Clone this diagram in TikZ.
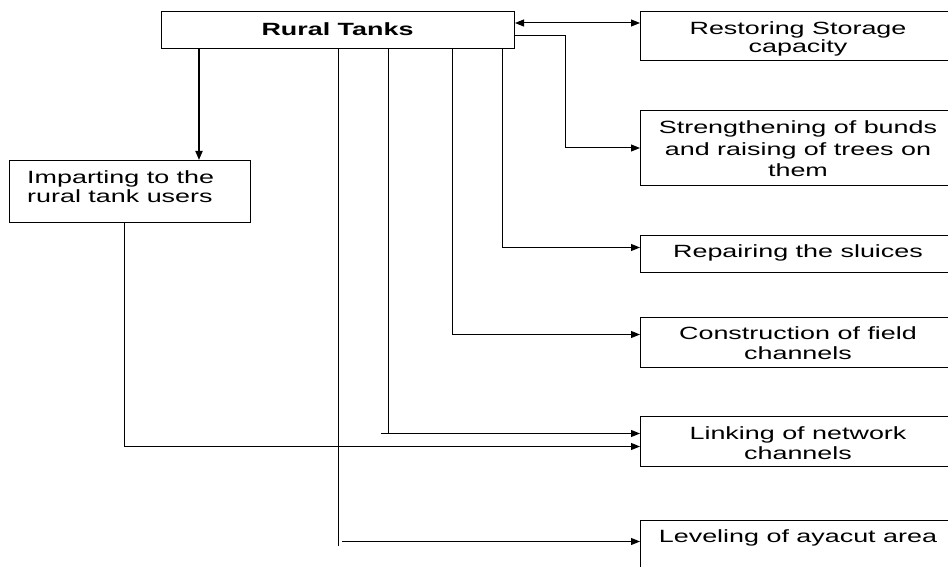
\documentclass[tikz,border=0pt]{standalone}
\usepackage{fontspec}
\setmainfont{Liberation Sans}[FakeStretch=1.52]
\usetikzlibrary{arrows.meta}
\newcommand{\fl}{\rule{0pt}{12.7pt}}
\begin{document}
\begin{tikzpicture}[x=1pt,y=-1pt,
  line width=1pt,
  box/.style={draw, line width=1pt, inner sep=0pt, anchor=north west, minimum width=316pt},
  txt/.style={inner sep=0pt, anchor=north, align=center, font=\fontsize{17.7}{#1}\selectfont},
  txt/.default=20,
  arr/.style={-{Triangle[length=9pt,width=7pt]}},
  dbl/.style={{Triangle[length=9pt,width=7pt]}-{Triangle[length=9pt,width=7pt]}}
]
\useasboundingbox (0,0) rectangle (948,567);
\fill[white] (0,0) rectangle (948,567);

% boxes
\node[box, minimum width=353pt, minimum height=37pt] (rural) at (161,11) {};
\node[box, minimum height=49pt] (restore) at (640,11) {};
\node[box, minimum height=75pt] (strength) at (640,110) {};
\node[box, minimum height=37pt] (repair) at (640,235) {};
\node[box, minimum height=50pt] (constr) at (640,317) {};
\node[box, minimum height=50pt] (link) at (640,416) {};
\node[box, minimum height=52pt] (level) at (640,520) {};
\node[box, minimum width=241pt, minimum height=62pt] (imp) at (9,160) {};

% texts
\node[txt, font=\bfseries\fontsize{17.7}{20}\selectfont] (truralt) at (337.5,22.3) {\fl Rural Tanks};
\node[txt=18] (trestore) at (798,21.6) {\fl Restoring Storage\\capacity};
\node[txt=21.5] (tstrength) at (798,120.6) {\fl Strengthening of bunds\\and raising of trees on\\them};
\node[txt] (trepair) at (798,244) {\fl Repairing the sluices};
\node[txt] (tconstr) at (798,326.3) {\fl Construction of field\\channels};
\node[txt] (tlink) at (798,426.3) {\fl Linking of network\\channels};
\node[txt] (tlevel) at (798,529.3) {\fl Leveling of ayacut area};
\node[txt=18.4, anchor=north west, align=left] (timp) at (26.7,170.6) {\fl Imparting to the\\rural tank users};

% drop points on the bottom of Rural Tanks
\coordinate (d1) at ([xshift=38pt]rural.south west);
\coordinate (d2) at ([xshift=177pt]rural.south west);
\coordinate (d3) at ([xshift=227pt]rural.south west);
\coordinate (d4) at ([xshift=291pt]rural.south west);
\coordinate (d5) at ([xshift=341pt]rural.south west);

% connectors
\draw[dbl] ([yshift=-12pt]rural.north east) -- ([yshift=-12pt]restore.north west);
\draw[arr] ([yshift=-25pt]rural.north east) -| ([xshift=-75pt]strength.west) -- (strength.west);
\draw[arr, line width=1.8pt] (d1) -- (d1 |- imp.north);
\draw[arr] (d5) |- ([yshift=6.5pt]repair.west);
\draw[arr] (d4) |- ([yshift=8pt]constr.west);

\coordinate (l1) at ([yshift=8pt]link.west);
\draw (d3) -- (d3 |- l1);
\path (d3 |- l1) ++(-7,0) coordinate (l1s);
\draw[arr] (l1s) -- (l1);

\draw[arr] ([xshift=-5.5pt]imp.south) |- ([yshift=-5pt]link.west);

\coordinate (l2) at ([yshift=5pt]level.west);
\path (d2 |- l2) ++(0,4) coordinate (d2e);
\draw (d2) -- (d2e);
\path (d2 |- l2) ++(4,0) coordinate (l2s);
\draw[arr] (l2s) -- (l2);
\end{tikzpicture}
\end{document}
